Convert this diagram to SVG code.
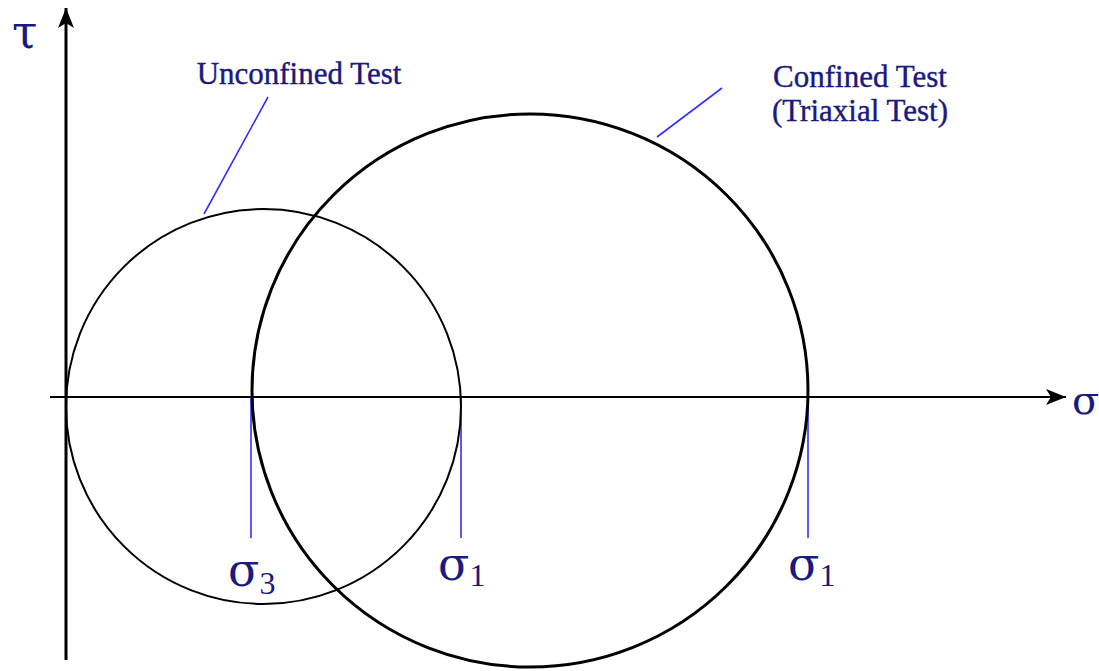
<svg xmlns="http://www.w3.org/2000/svg" width="1099" height="671" viewBox="0 0 1099 671">
<style>
.ax{stroke:#000;stroke-width:3;fill:none}
.c{stroke:#000;fill:none}
.lead{stroke:#3030ff;stroke-width:1.6;fill:none}
.lbl{font-family:"Liberation Serif",serif;font-size:31px;fill:#1a1a80;stroke:#1a1a80;stroke-width:0.4}
.sym{font-family:"DejaVu Serif","Liberation Serif",serif;fill:#1a1a80}
.sub{font-family:"Liberation Serif",serif;font-size:32px}
</style>
<defs>
<marker id="ah" viewBox="0 0 20 16" refX="20" refY="8" markerWidth="20" markerHeight="16" markerUnits="userSpaceOnUse" orient="auto">
<path d="M0,0 L20,8 L0,16 L5,8 Z" fill="#000"/>
</marker>
</defs>
<g id="connectors">
<line class="ax" x1="66" y1="660" x2="66" y2="8" marker-end="url(#ah)"/>
<line class="ax" x1="50" y1="397" x2="1066" y2="397" marker-end="url(#ah)" style="stroke-width:2"/>
<line class="lead" x1="268" y1="97" x2="204" y2="214"/>
<line class="lead" x1="722" y1="88" x2="657" y2="137"/>
<line class="lead" x1="251" y1="397" x2="251" y2="538"/>
<line class="lead" x1="461" y1="397" x2="461" y2="538"/>
<line class="lead" x1="808" y1="397" x2="808" y2="538"/>
</g>
<g id="unconfined-circle">
<ellipse class="c" cx="263.5" cy="406.5" rx="197.5" ry="197.5" stroke-width="2"/>
</g>
<g id="confined-circle">
<ellipse class="c" cx="530" cy="390.5" rx="278" ry="276.5" stroke-width="3"/>
</g>
<g id="label-unconfined">
<text class="lbl" x="299" y="84" text-anchor="middle">Unconfined Test</text>
</g>
<g id="label-confined">
<text class="lbl" x="860" y="87" text-anchor="middle">Confined Test</text>
<text class="lbl" x="860" y="121" text-anchor="middle">(Triaxial Test)</text>
</g>
<g id="axis-labels">
<text class="sym" x="12" y="48" font-size="46">τ</text>
<text class="sym" x="1072" y="414" font-size="40">σ</text>
<text class="sym" x="228" y="586" font-size="46">σ<tspan class="sub" dy="8">3</tspan></text>
<text class="sym" x="438" y="580" font-size="46">σ<tspan class="sub" dy="6">1</tspan></text>
<text class="sym" x="788" y="580" font-size="46">σ<tspan class="sub" dy="6">1</tspan></text>
</g>
</svg>
